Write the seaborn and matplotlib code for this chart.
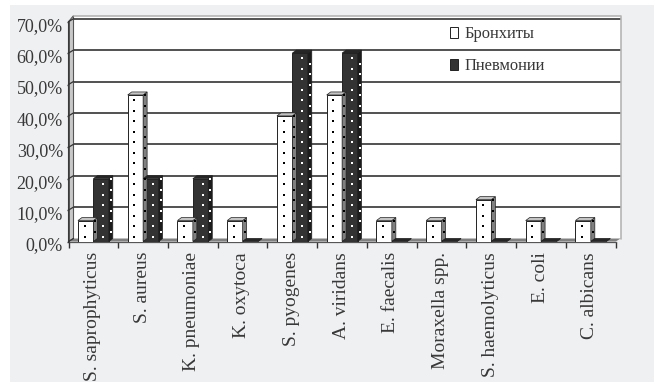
import matplotlib
matplotlib.use("Agg")
import matplotlib.pyplot as plt
import numpy as np
import pandas as pd
import seaborn as sns
from matplotlib.patches import Polygon, Rectangle
from matplotlib.transforms import Affine2D, IdentityTransform

species = ["S. saprophyticus", "S. aureus", "K. pneumoniae", "K. oxytoca",
           "S. pyogenes", "A. viridans", "E. faecalis", "Moraxella spp.",
           "S. haemolyticus", "E. coli", "C. albicans"]
bronchitis = [6.67, 46.67, 6.67, 6.67, 40.0, 46.67, 6.67, 6.67, 13.33, 6.67, 6.67]
pneumonia = [20.0, 20.0, 20.0, 0.0, 60.0, 60.0, 0.0, 0.0, 0.0, 0.0, 0.0]
series_names = ["Бронхиты", "Пневмонии"]
y_ticks = [0, 10, 20, 30, 40, 50, 60, 70]

W, H = 654, 382
DX, DY = 5, 3          # depth of the pseudo-3D box, in pixels
PANEL = "#eff0f2"
INK = "#383838"

sns.set_theme(style="white")
plt.rcParams["font.family"] = ["Liberation Serif", "DejaVu Serif"]

fig = plt.figure(figsize=(W / 100, H / 100), dpi=100, facecolor="white")
fig.add_artist(Rectangle((10 / W, 0), 1 - 10 / W, 1 - 5 / H, transform=fig.transFigure,
                         facecolor=PANEL, edgecolor="none", zorder=-10))

ax = fig.add_axes([68.5 / W, 1 - 241.5 / H, (615.7 - 68.5) / W, (241.5 - 21.7) / H])
ax.patch.set_visible(False)

df = pd.DataFrame({
    "species": species * 2,
    "share": bronchitis + pneumonia,
    "group": [series_names[0]] * len(species) + [series_names[1]] * len(species),
})
sns.barplot(data=df, x="species", y="share", hue="group", order=species,
            hue_order=series_names, palette=["#ffffff", "#333333"], width=0.62,
            saturation=1, edgecolor="#222222", linewidth=0.7, ax=ax, zorder=5)
ax.set_xlim(-0.5, len(species) - 0.5)
ax.set_ylim(0, 70)
ax.set_xlabel("")
ax.set_ylabel("")

# Back wall, floor and side wall of the box
to_px = ax.transData.transform
back = Affine2D().translate(DX, DY)
(x0, y0), (x1, y1) = to_px((-0.5, 0)), to_px((len(species) - 0.5, 70))
px = IdentityTransform()


def face(points, fc, ec="none", lw=0.0, z=1):
    ax.add_patch(Polygon(points, closed=True, facecolor=fc, edgecolor=ec, linewidth=lw,
                         transform=px, zorder=z, clip_on=False))


face([(x0 + DX, y0 + DY), (x1 + DX, y0 + DY), (x1 + DX, y1 + DY + 3), (x0 + DX, y1 + DY + 3)], "white")
face([(x0, y0), (x0 + DX, y0 + DY), (x0 + DX, y1 + DY + 3), (x0, y1)], "#c8c8c8", "#555555", 0.8)
ax.hlines(y_ticks[1:], -0.5, len(species) - 0.5, colors="#222222", linewidth=1.1,
          transform=ax.transData + back, zorder=2, clip_on=False)
ax.plot([x0 + DX, x1 + DX, x1 + DX], [y1 + DY + 3, y1 + DY + 3, y0 + DY], color="#b5b5b5",
        linewidth=1.2, transform=px, zorder=2, clip_on=False)
face([(x0, y0), (x1, y0), (x1 + DX, y0 + DY), (x0 + DX, y0 + DY)], "#808080", z=3)

# Short diagonals linking the value ticks to the back-wall gridlines
for v in y_ticks:
    _, yv = to_px((-0.5, v))
    ax.plot([x0, x0 + DX], [yv, yv + DY], color="#333333", linewidth=0.9,
            transform=px, zorder=3, clip_on=False)
ax.set_xlim(-0.5, len(species) - 0.5)
ax.set_ylim(0, 70)

# Side and top faces plus the dotted fill of each bar
side_colors = ["#808080", "#1c1c1c"]
top_colors = ["#c4c4c4", "#262626"]
dot_colors = ["#000000", "#ffffff"]
dots = {0: [], 1: []}
for k, container in enumerate(ax.containers):
    for bar in container:
        (a, b), (c, d) = to_px(bar.get_bbox().get_points())
        face([(c, b), (c + DX - 1, b + DY), (c + DX - 1, d + DY), (c, d)],
             side_colors[k], "#222222", 0.5, z=5)
        face([(a, d), (c, d), (c + DX - 1, d + DY), (a + DX - 1, d + DY)],
             top_colors[k], "#222222", 0.5, z=5)
        if d - b < 2:
            continue
        for row, y in enumerate(np.arange(b + 5, d - 1, 10.5)):
            dots[k].append(((a + c) / 2 + (2 if k else -1), y))
            dots[k].append((c + 2, y + 5) if y + 5 < d else ((a + c) / 2 + 2, y))
for k, pts in dots.items():
    xs, ys = zip(*pts)
    ax.scatter(xs, ys, marker="s", s=2.4, color=dot_colors[k], linewidths=0,
               transform=px, zorder=6, clip_on=False)

# Category boundaries carry the tick marks, bar groups carry the labels
ax.set_xticks(np.arange(len(species) + 1) - 0.5)
ax.set_xticklabels([])
ax.set_xticks(np.arange(len(species)), labels=species, minor=True)
ax.tick_params(axis="x", which="major", length=4, width=1, color="#333333", bottom=True)
ax.tick_params(axis="x", which="minor", length=0, pad=7.5, labelsize=14, labelcolor=INK)
for label in ax.get_xticklabels(minor=True):
    label.set_rotation(90)
    label.set_ha("center")
    label.set_va("top")
    label.set_transform(label.get_transform() + Affine2D().translate(-1, 0))

ax.set_yticks(y_ticks, labels=[f"{v},0%" for v in y_ticks])
ax.tick_params(axis="y", length=1.5, width=1, color="#333333", left=True, pad=2.5,
               labelsize=13, labelcolor=INK)
for label in ax.get_yticklabels():
    label.set_transform(label.get_transform() + Affine2D().translate(0, -2.5))

sns.despine(ax=ax, top=True, right=True)
ax.spines["left"].set_color("#333333")
ax.spines["left"].set_linewidth(1.1)
ax.spines["bottom"].set_color("#555555")
ax.spines["bottom"].set_linewidth(0.9)
ax.spines["left"].set_zorder(7)

handles, labels = ax.get_legend_handles_labels()
leg = ax.legend(handles, labels, frameon=False, fontsize=11.9, labelcolor=INK,
                bbox_to_anchor=((449.5 - 68.5) / (615.7 - 68.5), 1 - (26.4 - 21.7) / (241.5 - 21.7)),
                loc="upper left", borderaxespad=0, borderpad=0, labelspacing=0.96,
                handlelength=0.5, handleheight=0.6, handletextpad=0.4)
leg.set_zorder(8)

fig.savefig("out.png", dpi=100, facecolor="white")
